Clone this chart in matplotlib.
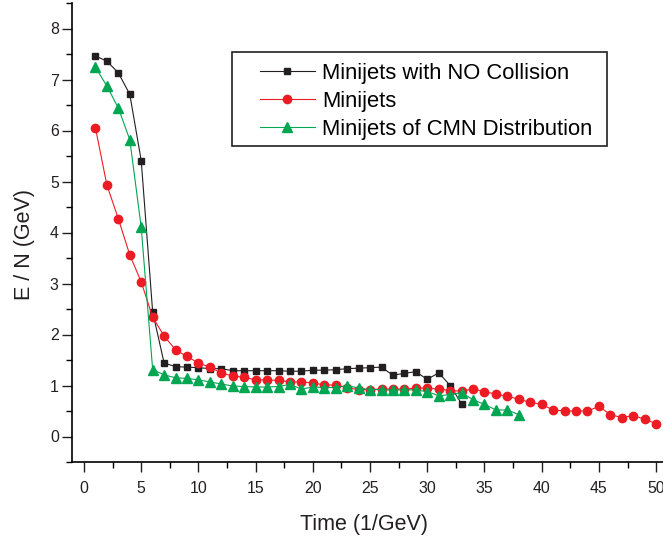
import numpy as np
import matplotlib.pyplot as plt
from matplotlib.patches import Rectangle
from matplotlib.ticker import MultipleLocator

plt.rcParams['font.family'] = ['Liberation Sans', 'DejaVu Sans']

# time steps (1/GeV)
t_nocoll = np.arange(1, 34)
t_mini = np.arange(1, 51)
t_cmn = np.arange(1, 39)

e_nocoll = [7.46, 7.36, 7.13, 6.71, 5.41, 2.44, 1.44, 1.37, 1.36, 1.35,
            1.33, 1.33, 1.29, 1.29, 1.29, 1.29, 1.29, 1.28, 1.28, 1.30,
            1.30, 1.31, 1.33, 1.34, 1.35, 1.36, 1.20, 1.24, 1.27, 1.12,
            1.25, 1.00, 0.64]

e_mini = [6.05, 4.93, 4.27, 3.56, 3.03, 2.34, 1.97, 1.70, 1.57, 1.44,
          1.36, 1.24, 1.19, 1.16, 1.11, 1.11, 1.10, 1.07, 1.07, 1.05,
          1.01, 1.01, 0.96, 0.92, 0.92, 0.93, 0.93, 0.93, 0.95, 0.95,
          0.93, 0.90, 0.89, 0.93, 0.88, 0.83, 0.79, 0.73, 0.67, 0.63,
          0.52, 0.50, 0.50, 0.50, 0.59, 0.43, 0.37, 0.41, 0.34, 0.25]

e_cmn = [7.24, 6.87, 6.44, 5.82, 4.10, 1.31, 1.21, 1.15, 1.14, 1.11,
         1.07, 1.03, 0.99, 0.98, 0.97, 0.97, 0.98, 1.02, 0.93, 0.97,
         0.96, 0.96, 1.00, 0.95, 0.92, 0.92, 0.91, 0.92, 0.91, 0.88,
         0.80, 0.82, 0.86, 0.72, 0.63, 0.52, 0.52, 0.43]

W, H = 663, 539
fig = plt.figure(figsize=(W/100, H/100), dpi=100)
ax = fig.add_axes([72/W, 1 - 462/H, 1 - 72/W, (462 - 3)/H])

ax.plot(t_nocoll, e_nocoll, '-s', color='#231f20', lw=0.8, ms=5,
        label='Minijets with NO Collision')
ax.plot(t_mini, e_mini, '-o', color='#ed1c24', lw=0.8, ms=6,
        label='Minijets')
ax.plot(t_cmn, e_cmn, '-^', color='#00a651', lw=0.8, ms=6.5,
        label='Minijets of CMN Distribution')

ax.set_xlim(-1.05, 50.6)
ax.set_ylim(-0.5, 8.5)
ax.xaxis.set_major_locator(MultipleLocator(5))
ax.xaxis.set_minor_locator(MultipleLocator(2.5))
ax.yaxis.set_major_locator(MultipleLocator(1))
ax.yaxis.set_minor_locator(MultipleLocator(0.5))
ax.spines['top'].set_visible(False)
ax.spines['right'].set_visible(False)
for s in ('left', 'bottom'):
    ax.spines[s].set_linewidth(1.2)
ax.tick_params(which='major', direction='out', length=7, width=1.0,
               labelsize=11.4, colors='#231f20')
ax.tick_params(which='minor', direction='out', length=4, width=1.0)
ax.tick_params(axis='x', which='major', pad=6.5)
ax.tick_params(axis='y', which='major', pad=2.5)

ax.set_xlabel('Time (1/GeV)', fontsize=15.5, color='#231f20', va='top')
ax.set_ylabel('E / N (GeV)', fontsize=15.5, color='#231f20')
ax.xaxis.set_label_coords(0.494, (462 - 514) / 459)
ax.yaxis.set_label_coords((35 - 72) / 591, (462 - 244) / 459)

# legend entries without frame, box drawn separately
leg = ax.legend(loc='upper left', bbox_to_anchor=(260/W, 1 - 63/H),
                bbox_transform=fig.transFigure, borderaxespad=0,
                borderpad=0, fontsize=15.8, frameon=False,
                handlelength=2.5, handletextpad=0.32, labelspacing=0.32)
fig.patches.append(Rectangle((232/W, 1 - 146/H), (607 - 232)/W, (146 - 52)/H,
                             transform=fig.transFigure, fill=False,
                             edgecolor='#231f20', linewidth=1.2))

fig.savefig('out.png', dpi=100)
